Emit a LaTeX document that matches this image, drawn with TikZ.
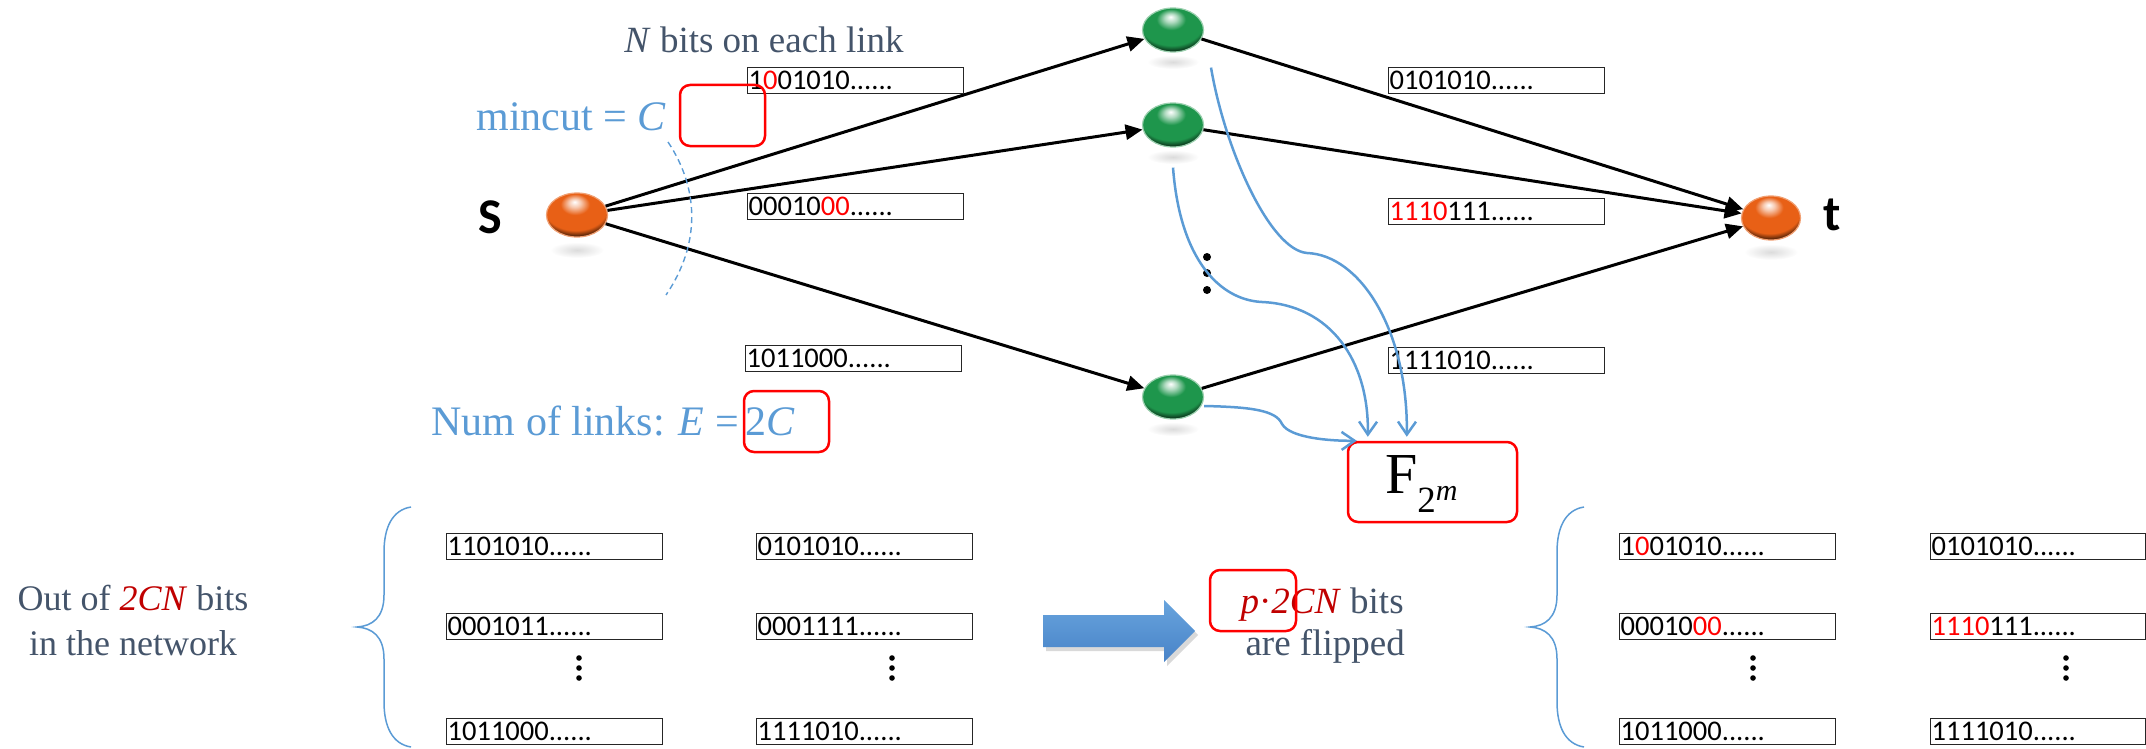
\documentclass[tikz,border=0pt]{standalone}
\usepackage{fontspec}
\setmainfont{Liberation Serif}
\newfontfamily\bitfont{Carlito}
\usetikzlibrary{arrows.meta,shapes.geometric,shadows}

\definecolor{slate}{HTML}{44546A}
\definecolor{lblue}{HTML}{5B9BD5}
\definecolor{dred}{HTML}{C00000}
\definecolor{ballorange}{RGB}{232,96,22}
\definecolor{ballgreen}{RGB}{30,150,76}
\definecolor{arrowtop}{HTML}{68A4DD}
\definecolor{arrowbot}{HTML}{4883C8}

% glossy spheres: highlight on top, dark crescent low down, light rim
% (the central 50bp square of a shading is fitted to the shaded path)
\pgfdeclareradialshading{orangesphere}{\pgfpoint{-2bp}{15bp}}{%
  color(0bp)=(white); color(5bp)=(ballorange!35!white); color(12bp)=(ballorange);
  color(26bp)=(ballorange); color(30bp)=(ballorange!50!black);
  color(33bp)=(black!92!ballorange); color(37bp)=(black!85!ballorange);
  color(39.5bp)=(ballorange!50!black); color(42bp)=(ballorange); color(60bp)=(ballorange!60!white)}
\pgfdeclareradialshading{greensphere}{\pgfpoint{-2bp}{15bp}}{%
  color(0bp)=(white); color(5bp)=(ballgreen!35!white); color(12bp)=(ballgreen);
  color(26bp)=(ballgreen); color(30bp)=(ballgreen!50!black);
  color(33bp)=(black!92!ballgreen); color(37bp)=(black!85!ballgreen);
  color(39.5bp)=(ballgreen!50!black); color(42bp)=(ballgreen); color(60bp)=(ballgreen!50!white)}

\begin{document}
\begin{tikzpicture}[x=1pt,y=-1pt,
  bitbox/.style={draw=black!85, line width=1.3pt, rectangle, minimum width=216pt,
    minimum height=26pt, inner sep=1pt, text width=214pt, align=left,
    anchor=north west, font=\bitfont\fontsize{28.5}{28.5}\selectfont},
  redbox/.style={draw=red, line width=2.5pt, rounded corners=10pt, rectangle, inner sep=0pt},
  ballnode/.style={ellipse, inner sep=0pt, minimum width=61pt, minimum height=44pt, line width=1.2pt},
  orangeball/.style={ballnode, shade, shading=orangesphere, draw=ballorange!60!white},
  greenball/.style={ballnode, shade, shading=greensphere, draw=ballgreen!45!white},
  link/.style={line width=3pt, -{Triangle[length=17pt,width=15pt]}},
  feed/.style={lblue, line width=2.5pt, -{Straight Barb[length=13pt,width=18pt]}},
  brace/.style={lblue, line width=1.5pt},
  vdot/.style={fill=black},
  reflect/.style={inner color=black!14, outer color=white}
]
\useasboundingbox (0,0) rectangle (2146,749);

% ---------- network ----------
\shade[reflect] (577,250) ellipse [x radius=27pt, y radius=8pt];
\shade[reflect] (1771,252) ellipse [x radius=27pt, y radius=8pt];
\shade[reflect] (1173,62) ellipse [x radius=26pt, y radius=7pt];
\shade[reflect] (1173,157) ellipse [x radius=26pt, y radius=7pt];
\shade[reflect] (1173,429) ellipse [x radius=26pt, y radius=7pt];

\node[orangeball] (s) at (577,215) {};
\node[orangeball, minimum width=59pt] (t) at (1771,218) {};
\node[greenball] (g1) at (1173,30) {};
\node[greenball] (g2) at (1173,125) {};
\node[greenball] (g3) at (1173,397) {};

\node[font=\bitfont\bfseries\fontsize{50}{50}\selectfont] (slabel) at (490,217) {S};
\node[font=\bitfont\bfseries\fontsize{50}{50}\selectfont] (tlabel) at (1832,215) {t};

\draw[link] (s) -- (g1);
\draw[link] (s) -- (g2);
\draw[link] (s) -- (g3);
\draw[link] (g1) -- (t);
\draw[link] (g2) -- (t);
\draw[link] (g3) -- (t);

% vertical dots between the relay nodes
\fill[vdot] (1207,257) circle [radius=4pt];
\fill[vdot] (1207,273) circle [radius=4pt];
\fill[vdot] (1207,290) circle [radius=4pt];

% bits carried on the links
\node[bitbox] (u1) at (747,67) {1\textcolor{red}{0}01010......};
\node[bitbox] (u2) at (747,193) {00010\textcolor{red}{00}......};
\node[bitbox] (u3) at (745,345) {1011000......};
\node[bitbox] (u4) at (1388,67) {0101010......};
\node[bitbox] (u5) at (1388,198) {\textcolor{red}{1110}111......};
\node[bitbox] (u6) at (1388,347) {1111010......};

% labels
\node[anchor=base, text=slate, font=\fontsize{37}{37}\selectfont] (nbits) at (764,53)
  {\textit{N} bits on each link};
\node[anchor=base west, text=lblue, font=\fontsize{42}{42}\selectfont] (mincut) at (473,131)
  {mincut = \textit{C}};
\node[redbox, minimum width=85pt, minimum height=61pt] (cutbox) at (722.5,115.5) {};
\draw[lblue, line width=1.4pt, dash pattern=on 6pt off 4pt]
  (668,142) .. controls (700,190) and (700,245) .. (666,295);

\node[anchor=base west, text=lblue, font=\fontsize{42}{42}\selectfont] (numlinks) at (428,435)
  {Num of links: \textit{E} =\,2\textit{C}};
\node[redbox, minimum width=85pt, minimum height=61pt] (ebox) at (786.5,421.5) {};

% finite field box
\node[redbox, minimum width=169pt, minimum height=80pt] (fbox) at (1432.5,482) {};
\node[anchor=base west, inner sep=0pt] (field) at (1385,493)
  {\fontsize{58}{58}\selectfont F\raisebox{-19pt}{\fontsize{37}{37}\selectfont 2\raisebox{12pt}{\fontsize{30}{30}\selectfont\itshape m}}};

\draw[feed, shorten >=4pt] ([xshift=38pt,yshift=-15pt]g1.south)
  .. controls (1225,150) and (1270,250) .. (1307,253)
  .. controls (1360,255) and (1408,330) .. ([xshift=60pt]fbox.north west);
\draw[feed, shorten >=4pt] ([yshift=-20pt]g2.south)
  .. controls (1180,260) and (1220,300) .. (1262,302)
  .. controls (1330,305) and (1369,360) .. ([xshift=21pt]fbox.north west);
\draw[feed] ([yshift=-9pt]g3.east)
  .. controls (1250,407) and (1276,410) .. (1282,424)
  .. controls (1290,438) and (1330,441) .. ([xshift=10pt]fbox.north west);

% ---------- bits before and after flipping ----------
\node[anchor=base, text=slate, font=\fontsize{36}{36}\selectfont] (out1) at (133,610)
  {Out of \textcolor{dred}{\textit{2CN}} bits};
\node[anchor=base, text=slate, font=\fontsize{36}{36}\selectfont] (out2) at (133,655)
  {in the network};

\draw[brace] (411,507) .. controls (392,510) and (384,528) .. (384,552) -- (384,595)
  .. controls (384,618) and (372,626) .. (357,627)
  .. controls (372,628) and (384,636) .. (384,659) -- (384,702)
  .. controls (384,726) and (392,744) .. (411,747);

\node[bitbox] (a1) at (446,533) {1101010......};
\node[bitbox] (a2) at (446,613) {0001011......};
\node[bitbox] (a3) at (446,718) {1011000......};
\node[bitbox] (b1) at (756,533) {0101010......};
\node[bitbox] (b2) at (756,613) {0001111......};
\node[bitbox] (b3) at (756,718) {1111010......};
\foreach \x in {579,892,1753,2066} {
  \fill[vdot] (\x,658) circle [radius=2.8pt];
  \fill[vdot] (\x,668) circle [radius=2.8pt];
  \fill[vdot] (\x,678) circle [radius=2.8pt];
}

\path[top color=arrowtop, bottom color=arrowbot,
      drop shadow={opacity=0.3, shadow xshift=3pt, shadow yshift=-4pt}]
  (1043,615) -- (1164,615) -- (1164,600) -- (1195,631) -- (1164,662) -- (1164,647) -- (1043,647) -- cycle;

\node[anchor=base west, text=slate, font=\fontsize{37}{37}\selectfont] (flip1) at (1237,613)
  {\textcolor{dred}{\textit{p}·\textit{2CN}} bits};
\node[anchor=base west, text=slate, font=\fontsize{37}{37}\selectfont] (flip2) at (1242,655)
  {are flipped};
\node[redbox, minimum width=86pt, minimum height=61pt] (pbox) at (1253,600.5) {};

\begin{scope}[xshift=1173pt]
\draw[brace] (411,507) .. controls (392,510) and (384,528) .. (384,552) -- (384,595)
  .. controls (384,618) and (372,626) .. (357,627)
  .. controls (372,628) and (384,636) .. (384,659) -- (384,702)
  .. controls (384,726) and (392,744) .. (411,747);
\end{scope}

\node[bitbox] (c1) at (1619,533) {1\textcolor{red}{0}01010......};
\node[bitbox] (c2) at (1619,613) {00010\textcolor{red}{00}......};
\node[bitbox] (c3) at (1619,718) {1011000......};
\node[bitbox, minimum width=215pt, text width=213pt] (d1) at (1930,533) {0101010......};
\node[bitbox, minimum width=215pt, text width=213pt] (d2) at (1930,613) {\textcolor{red}{1110}111......};
\node[bitbox, minimum width=215pt, text width=213pt] (d3) at (1930,718) {1111010......};
\end{tikzpicture}
\end{document}
